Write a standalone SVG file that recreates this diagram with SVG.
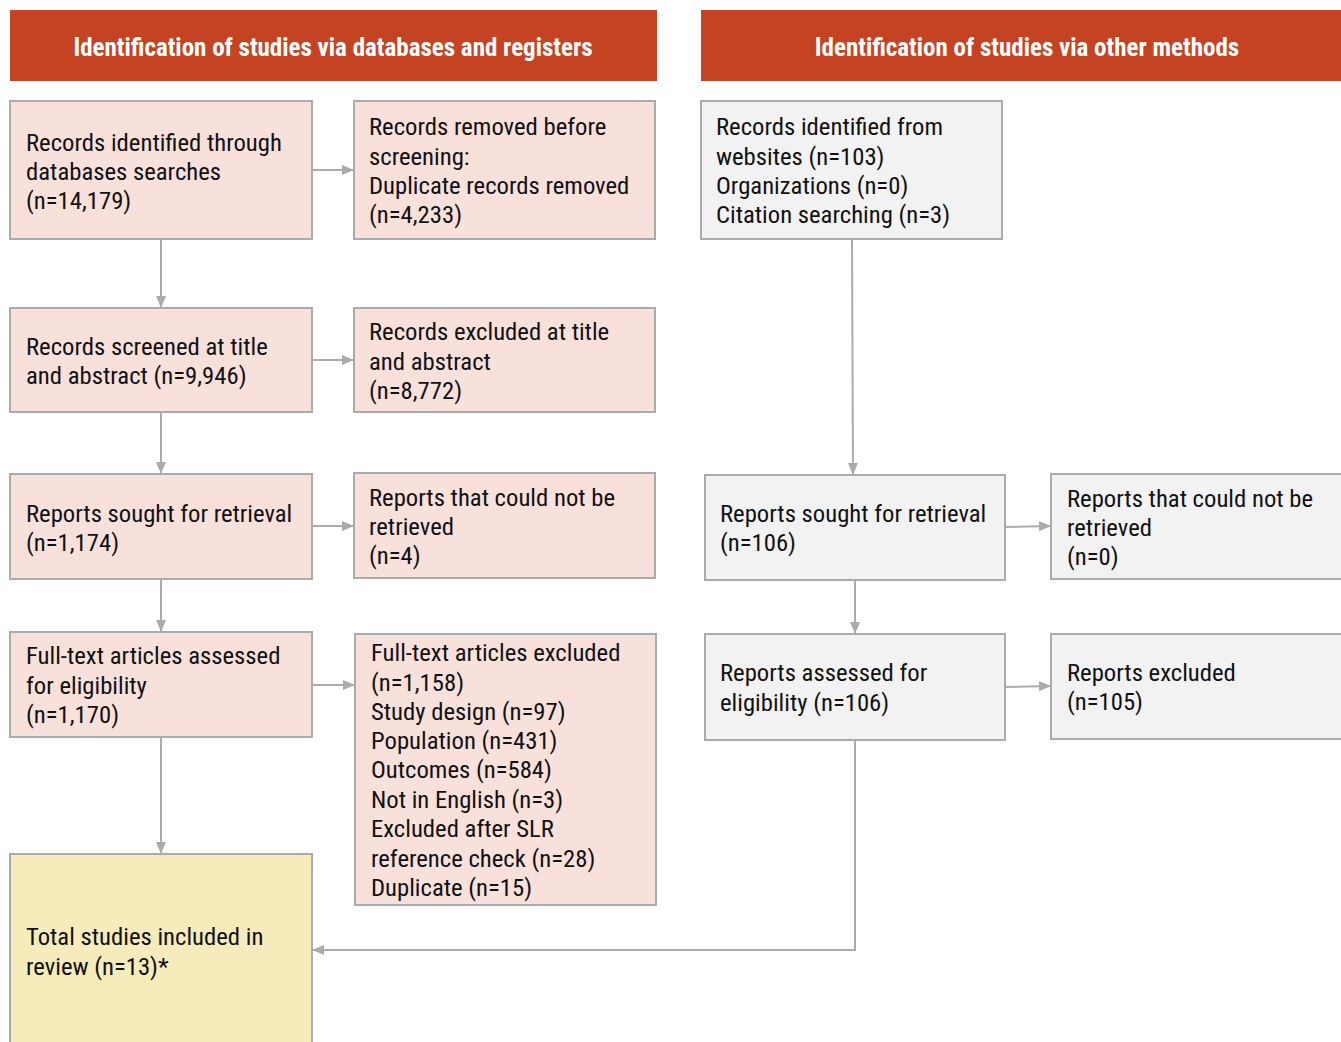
<svg xmlns="http://www.w3.org/2000/svg" width="1341" height="1042" viewBox="0 0 1341 1042">
<defs>
<style>
.hdr{fill:#C44322}
.ht{font-family:"Liberation Sans Narrow","Arial Narrow","Roboto Condensed","Liberation Sans",sans-serif;font-size:25px;font-weight:bold;fill:#ffffff;text-anchor:middle}
.pk{fill:#F8E0DB;stroke:#ABABAB;stroke-width:2}
.gy{fill:#F2F2F2;stroke:#ABABAB;stroke-width:2}
.yl{fill:#F5EBBB;stroke:#ABABAB;stroke-width:2}
.t{font-family:"Liberation Sans Narrow","Arial Narrow","Roboto Condensed","Liberation Sans",sans-serif;font-size:24.7px;fill:#111111}
.c{fill:none;stroke:#ABABAB;stroke-width:2}
</style>
<marker id="ah" markerUnits="userSpaceOnUse" markerWidth="12" markerHeight="12" viewBox="0 0 12 12" refX="12" refY="6" orient="auto">
<path d="M0,1 L12,6 L0,11 Z" fill="#ABABAB"/>
</marker>
</defs>
<rect width="1341" height="1042" fill="#ffffff"/>

<g id="header-left">
<rect class="hdr" x="10" y="10" width="647" height="71"/>
<text class="ht" x="333" y="56">Identification of studies via databases and registers</text>
</g>
<g id="header-right">
<rect class="hdr" x="701" y="10" width="640" height="71"/>
<text class="ht" x="1027" y="56">Identification of studies via other methods</text>
</g>

<g id="connectors">
<path class="c" d="M312,170 L354,170" marker-end="url(#ah)"/>
<path class="c" d="M161,239 L161,308" marker-end="url(#ah)"/>
<path class="c" d="M312,360 L354,360" marker-end="url(#ah)"/>
<path class="c" d="M161,412 L161,474" marker-end="url(#ah)"/>
<path class="c" d="M312,526 L354,526" marker-end="url(#ah)"/>
<path class="c" d="M161,579 L161,632" marker-end="url(#ah)"/>
<path class="c" d="M312,685 L355,685" marker-end="url(#ah)"/>
<path class="c" d="M161,737 L161,854" marker-end="url(#ah)"/>
<path class="c" d="M852,239 L853,475" marker-end="url(#ah)"/>
<path class="c" d="M1005,527 L1051,526" marker-end="url(#ah)"/>
<path class="c" d="M855,580 L855,634" marker-end="url(#ah)"/>
<path class="c" d="M1005,687 L1051,686" marker-end="url(#ah)"/>
<path class="c" d="M855,740 L855,950 L312,950" marker-end="url(#ah)"/>
</g>

<g id="records-identified">
<rect class="pk" x="10" y="101" width="302" height="138"/>
<text class="t" x="26" y="151">Records identified through</text>
<text class="t" x="26" y="180">databases searches</text>
<text class="t" x="26" y="209">(n=14,179)</text>
</g>
<g id="records-removed">
<rect class="pk" x="354" y="101" width="301" height="138"/>
<text class="t" x="369" y="135">Records removed before</text>
<text class="t" x="369" y="165">screening:</text>
<text class="t" x="369" y="194">Duplicate records removed</text>
<text class="t" x="369" y="223">(n=4,233)</text>
</g>
<g id="records-screened">
<rect class="pk" x="10" y="308" width="302" height="104"/>
<text class="t" x="26" y="355">Records screened at title</text>
<text class="t" x="26" y="384">and abstract (n=9,946)</text>
</g>
<g id="records-excluded">
<rect class="pk" x="354" y="308" width="301" height="104"/>
<text class="t" x="369" y="340">Records excluded at title</text>
<text class="t" x="369" y="370">and abstract</text>
<text class="t" x="369" y="399">(n=8,772)</text>
</g>
<g id="reports-sought-db">
<rect class="pk" x="10" y="474" width="302" height="105"/>
<text class="t" x="26" y="522">Reports sought for retrieval</text>
<text class="t" x="26" y="551">(n=1,174)</text>
</g>
<g id="reports-not-retrieved-db">
<rect class="pk" x="354" y="473" width="301" height="105"/>
<text class="t" x="369" y="506">Reports that could not be</text>
<text class="t" x="369" y="535">retrieved</text>
<text class="t" x="369" y="564">(n=4)</text>
</g>
<g id="fulltext-assessed">
<rect class="pk" x="10" y="632" width="302" height="105"/>
<text class="t" x="26" y="664">Full-text articles assessed</text>
<text class="t" x="26" y="694">for eligibility</text>
<text class="t" x="26" y="723">(n=1,170)</text>
</g>
<g id="fulltext-excluded">
<rect class="pk" x="355" y="634" width="301" height="271"/>
<text class="t" x="371" y="661">Full-text articles excluded</text>
<text class="t" x="371" y="691">(n=1,158)</text>
<text class="t" x="371" y="720">Study design (n=97)</text>
<text class="t" x="371" y="749">Population (n=431)</text>
<text class="t" x="371" y="778">Outcomes (n=584)</text>
<text class="t" x="371" y="808">Not in English (n=3)</text>
<text class="t" x="371" y="837">Excluded after SLR</text>
<text class="t" x="371" y="867">reference check (n=28)</text>
<text class="t" x="371" y="896">Duplicate (n=15)</text>
</g>
<g id="total-included">
<rect class="yl" x="10" y="854" width="302" height="200"/>
<text class="t" x="26" y="945">Total studies included in</text>
<text class="t" x="26" y="975">review (n=13)*</text>
</g>

<g id="records-other">
<rect class="gy" x="701" y="101" width="301" height="138"/>
<text class="t" x="716" y="135">Records identified from</text>
<text class="t" x="716" y="165">websites (n=103)</text>
<text class="t" x="716" y="194">Organizations (n=0)</text>
<text class="t" x="716" y="223">Citation searching (n=3)</text>
</g>
<g id="reports-sought-other">
<rect class="gy" x="705" y="475" width="300" height="105"/>
<text class="t" x="720" y="522">Reports sought for retrieval</text>
<text class="t" x="720" y="551">(n=106)</text>
</g>
<g id="reports-not-retrieved-other">
<rect class="gy" x="1051" y="474" width="300" height="105"/>
<text class="t" x="1067" y="507">Reports that could not be</text>
<text class="t" x="1067" y="536">retrieved</text>
<text class="t" x="1067" y="565">(n=0)</text>
</g>
<g id="reports-assessed-other">
<rect class="gy" x="705" y="634" width="300" height="106"/>
<text class="t" x="720" y="681">Reports assessed for</text>
<text class="t" x="720" y="711">eligibility (n=106)</text>
</g>
<g id="reports-excluded-other">
<rect class="gy" x="1051" y="634" width="300" height="105"/>
<text class="t" x="1067" y="681">Reports excluded</text>
<text class="t" x="1067" y="710">(n=105)</text>
</g>
</svg>
